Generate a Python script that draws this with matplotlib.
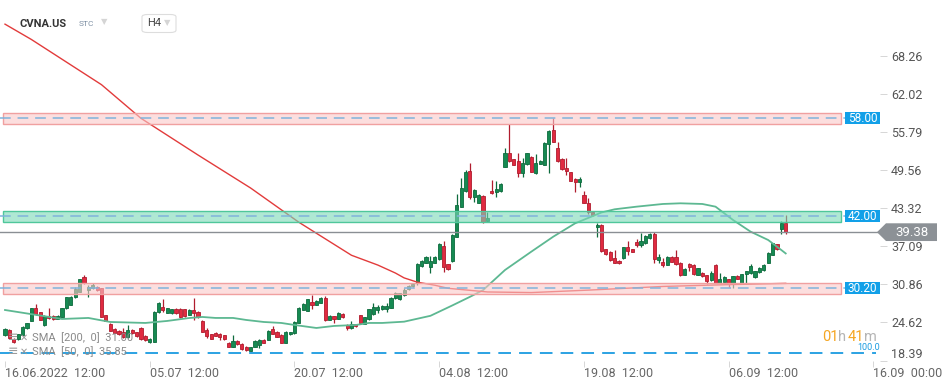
import matplotlib
matplotlib.use("Agg")
import matplotlib.pyplot as plt
from matplotlib.patches import Rectangle, Polygon, FancyBboxPatch
from matplotlib.transforms import blended_transform_factory

plt.rcParams['font.family'] = ['Roboto', 'DejaVu Sans']

# ---- data (H4 candles, CVNA.US) ----
opens = [
    22.57, 23.39, 21.97, 21.86, 22.57, 23.66, 24.91, 26.93, 26.27, 24.15,
    25.67, 25.67, 25.24, 25.57, 26.93, 27.47, 28.73, 29.65, 32.10, 29.93,
    30.20, 30.36, 30.20, 25.84, 24.37, 23.55, 23.28, 23.11, 22.19, 23.39,
    23.00, 23.77, 22.40, 21.48, 21.48, 26.38, 27.20, 26.22, 26.11, 26.76,
    26.82, 26.76, 25.84, 26.66, 26.38, 24.86, 23.39, 22.73, 22.95, 22.73,
    22.51, 21.26, 20.66, 21.59, 21.10, 20.55, 20.01, 20.66, 20.93, 21.75,
    21.75, 23.50, 23.11, 22.57, 21.31, 22.68, 22.84, 24.58, 26.66, 26.55,
    28.02, 27.47, 27.85, 28.56, 25.02, 25.67, 25.18, 26.00, 24.20, 23.66,
    24.31, 25.84, 24.37, 25.13, 26.00, 26.66, 26.76, 26.76, 27.04, 28.56,
    28.40, 29.11, 30.10, 30.50, 31.02, 33.86, 34.40, 33.75, 34.40, 34.95,
    37.12, 34.13, 34.73, 38.65, 43.56, 46.12, 49.39, 45.08, 44.21, 45.30,
    41.21, 46.12, 45.90, 46.17, 50.10, 52.28, 51.29, 51.08, 49.11, 50.48,
    51.73, 49.11, 50.53, 50.37, 53.80, 56.09, 53.09, 51.29, 49.82, 49.22,
    48.02, 47.64, 45.46, 44.21, 42.74, 40.18, 40.55, 36.57, 36.19, 35.10,
    34.72, 35.10, 36.90, 36.57, 37.83, 37.28, 37.56, 38.37, 39.08, 34.83,
    34.56, 34.01, 35.38, 35.27, 34.40, 32.38, 34.18, 34.01, 32.38, 32.76,
    32.38, 31.56, 34.01, 31.12, 31.29, 31.67, 31.12, 32.21, 31.12, 32.49,
    32.76, 32.00, 32.92, 33.20, 34.40, 35.65, 37.45, 39.84, 40.93,
]
closes = [
    23.50, 22.02, 21.37, 22.73, 23.93, 24.48, 26.93, 26.00, 25.02, 25.67,
    25.29, 25.13, 25.67, 26.93, 28.73, 28.84, 30.03, 31.72, 31.02, 30.36,
    30.74, 29.93, 25.57, 24.91, 23.28, 22.95, 22.73, 22.19, 23.39, 22.84,
    22.40, 21.86, 21.75, 21.97, 26.38, 27.75, 26.66, 26.93, 26.76, 26.11,
    25.46, 25.67, 26.66, 26.11, 25.46, 23.11, 22.40, 21.97, 22.46, 22.19,
    21.86, 20.66, 21.64, 21.10, 20.23, 20.12, 20.55, 21.59, 21.75, 21.31,
    23.22, 22.73, 22.30, 21.31, 23.11, 23.00, 24.75, 26.93, 27.64, 28.40,
    27.47, 28.13, 28.56, 25.02, 25.67, 25.24, 26.11, 25.46, 23.66, 24.37,
    24.04, 24.58, 25.46, 26.76, 27.20, 27.20, 27.31, 27.31, 28.56, 29.38,
    29.38, 29.93, 30.60, 30.90, 34.18, 34.67, 35.27, 34.73, 35.38, 37.45,
    33.75, 33.31, 38.92, 43.83, 46.55, 49.28, 45.08, 46.28, 45.46, 41.10,
    41.76, 45.74, 46.44, 47.26, 52.28, 51.08, 50.37, 49.11, 50.75, 52.28,
    49.28, 50.75, 51.08, 54.02, 55.98, 54.18, 51.08, 49.66, 49.44, 47.81,
    47.64, 48.08, 44.21, 42.74, 42.19, 40.56, 36.36, 35.81, 34.83, 34.40,
    34.29, 36.90, 36.36, 36.19, 37.28, 37.99, 38.75, 39.08, 34.94, 35.38,
    34.01, 35.38, 34.56, 34.12, 32.38, 33.36, 33.74, 32.54, 33.47, 32.21,
    31.40, 32.76, 31.12, 31.67, 32.10, 31.12, 32.21, 31.78, 32.54, 33.03,
    33.85, 33.03, 33.58, 34.01, 36.03, 37.56, 36.57, 40.93, 39.38,
]
highs = [
    23.66, 23.50, 22.00, 22.80, 24.00, 24.60, 27.00, 27.64, 26.40, 25.75,
    26.93, 25.80, 25.75, 27.00, 28.84, 28.95, 30.47, 31.80, 32.38, 30.74,
    31.00, 30.50, 30.30, 25.90, 24.50, 23.70, 23.40, 23.66, 24.20, 23.50,
    23.10, 23.90, 22.50, 22.10, 26.50, 28.02, 28.45, 27.00, 26.85, 26.90,
    26.90, 26.85, 26.75, 28.56, 26.50, 24.95, 23.66, 22.80, 23.10, 22.85,
    22.60, 21.35, 22.57, 21.70, 21.20, 20.70, 20.65, 21.70, 21.85, 21.85,
    23.30, 24.00, 23.20, 22.65, 23.20, 23.10, 24.85, 27.20, 27.75, 28.50,
    29.11, 28.30, 28.70, 28.94, 25.80, 25.70, 26.40, 26.10, 24.30, 24.80,
    24.40, 25.90, 25.55, 26.85, 27.75, 27.47, 27.40, 27.85, 28.73, 29.65,
    29.50, 30.20, 30.80, 31.00, 34.40, 34.80, 35.40, 35.49, 35.50, 37.67,
    37.94, 34.20, 39.09, 45.63, 48.19, 49.55, 50.75, 46.44, 45.60, 45.46,
    42.74, 47.92, 47.81, 47.48, 53.09, 57.07, 51.40, 52.38, 51.46, 52.40,
    51.80, 52.17, 51.20, 54.10, 56.09, 58.00, 54.18, 51.46, 51.46, 49.30,
    48.19, 48.46, 46.17, 44.92, 42.90, 40.94, 40.72, 36.65, 36.30, 36.47,
    34.80, 37.00, 37.99, 36.65, 38.21, 39.30, 38.85, 39.30, 39.35, 35.81,
    35.10, 35.45, 35.45, 36.47, 34.56, 33.45, 34.29, 34.10, 33.55, 32.85,
    32.40, 33.09, 34.10, 32.76, 32.20, 31.70, 32.25, 32.30, 32.60, 33.05,
    34.18, 33.10, 33.74, 34.10, 36.10, 37.66, 37.50, 41.26, 42.19,
]
lows = [
    22.40, 21.90, 21.20, 21.80, 22.50, 23.60, 24.85, 25.84, 24.95, 24.10,
    25.13, 25.05, 25.15, 25.50, 26.76, 27.40, 28.56, 29.60, 30.90, 28.73,
    30.10, 29.80, 25.50, 24.80, 23.20, 22.90, 22.60, 22.02, 22.02, 22.75,
    22.30, 21.80, 21.60, 21.30, 21.40, 26.22, 26.38, 26.10, 26.00, 26.00,
    25.35, 25.55, 25.75, 25.02, 25.35, 23.00, 22.02, 21.90, 22.35, 21.75,
    21.80, 20.55, 20.55, 21.00, 20.15, 19.95, 19.95, 20.60, 20.50, 21.25,
    21.70, 22.65, 22.20, 21.25, 21.25, 22.60, 22.80, 24.48, 26.60, 26.50,
    26.76, 27.40, 27.80, 24.86, 24.95, 24.48, 25.10, 25.40, 23.30, 23.60,
    23.95, 24.50, 24.30, 25.05, 25.84, 26.22, 26.70, 26.38, 26.93, 28.40,
    28.30, 29.00, 30.00, 30.40, 30.75, 33.75, 34.30, 32.66, 34.30, 34.84,
    32.93, 33.20, 34.56, 38.54, 43.45, 46.01, 44.76, 44.37, 44.10, 40.83,
    41.10, 45.63, 45.08, 46.01, 49.99, 50.91, 50.30, 48.35, 48.35, 50.40,
    49.20, 48.90, 50.45, 50.30, 49.11, 54.07, 50.91, 49.55, 48.73, 47.70,
    46.01, 46.83, 44.10, 42.36, 42.00, 38.65, 36.19, 35.70, 34.70, 34.29,
    34.20, 35.00, 35.65, 36.10, 37.01, 36.90, 37.50, 38.26, 34.29, 34.29,
    33.63, 33.95, 34.50, 34.01, 32.21, 32.30, 33.09, 32.45, 32.30, 32.10,
    30.85, 31.45, 31.00, 31.02, 31.20, 30.36, 30.20, 31.70, 31.05, 31.12,
    32.54, 31.90, 32.65, 33.10, 34.30, 35.60, 36.50, 39.03, 39.08,
]

# moving averages, sampled along the drawn curves (candle index, price)
sma50_idx = [0, 13, 19, 24, 32, 37, 42, 45, 48, 52, 55, 59, 63, 66, 71, 75, 80, 83, 86, 91,
             97, 102, 106, 109, 114, 120, 125, 130, 136, 139, 144, 150, 154, 159, 162, 166,
             170, 174, 177, 178]
sma50_val = [26.65, 25.18, 25.35, 24.69, 24.53, 24.86, 25.34, 25.51, 25.35, 25.35, 25.02, 24.69,
             24.53, 24.20, 23.71, 24.04, 24.20, 24.53, 24.53, 24.74, 25.70, 27.40, 28.80, 29.90,
             33.19, 36.19, 38.64, 40.83, 42.60, 43.12, 43.55, 43.99, 44.10, 43.99, 43.55, 41.37,
             39.46, 38.10, 36.46, 35.90]
sma200_idx = [0, 6, 22, 31, 44, 56, 67, 79, 85, 89, 91, 94, 98, 101, 110, 120, 133, 150, 165, 178]
sma200_val = [73.4, 70.9, 63.5, 58.0, 52.0, 46.6, 41.0, 35.6, 34.0, 32.7, 31.9, 31.2, 30.7, 30.2,
              29.6, 29.5, 29.9, 30.5, 30.8, 31.0]

levels = [58.00, 42.00, 30.20]
level_kind = ['res', 'sup', 'res']
last_price = 39.38
y_ticks = [68.26, 62.02, 55.79, 49.56, 43.32, 37.09, 30.86, 24.62, 18.39]
x_tick_idx = [0, 33, 66, 99, 132, 165, 198]
x_tick_lbl = ['16.06.2022  12:00', '05.07  12:00', '20.07  12:00', '04.08  12:00',
              '19.08  12:00', '06.09  12:00', '16.09  00:00']

W, H = 949, 384
fig = plt.figure(figsize=(W / 100, H / 100), dpi=100)
fig.patch.set_facecolor('white')
ax = fig.add_axes([0, 1 - 360.5 / H, 880 / W, 360.5 / H])
ax.set_xlim(-1.14, 199.5)
ax.set_ylim(18.39, 77.35)
for s in ax.spines.values():
    s.set_visible(False)

GREEN, GREEN_E = '#168a52', '#0d6b3d'
RED, RED_E = '#e02a40', '#b01c2e'

n = len(closes)
for i in range(n):
    o, c, hi, lo = opens[i], closes[i], highs[i], lows[i]
    up = c >= o
    col, ec = (GREEN, GREEN_E) if up else (RED, RED_E)
    ax.vlines(i, lo, hi, color=ec, lw=0.9, zorder=2)
    bot = min(o, c)
    hgt = max(abs(c - o), 0.12)
    ax.add_patch(Rectangle((i - 0.36, bot), 0.72, hgt, facecolor=col, edgecolor=ec,
                           lw=0.6, zorder=2.5))

ax.plot(sma50_idx, sma50_val, color='#5db892', lw=1.3, zorder=3)
ax.plot(sma200_idx, sma200_val, color='#e23b3b', lw=1.0, zorder=3)

# support / resistance boxes with labels
yax = ax.get_yaxis_transform()
half = 0.92
for lv, kind in zip(levels, level_kind):
    fc = '#fac8c8' if kind == 'res' else '#7ad9b7'
    ec = '#f0a0a0' if kind == 'res' else '#4fc79b'
    ax.add_patch(Rectangle((0.003, lv - half), 0.953, 2 * half, transform=yax, facecolor=fc,
                           edgecolor='none', alpha=0.6, zorder=4))
    ax.add_patch(Rectangle((0.003, lv - half), 0.953, 2 * half, transform=yax, facecolor='none',
                           edgecolor=ec, lw=1.0, zorder=4.2))
    ax.plot([0.0, 0.96], [lv, lv], transform=yax, color='#7fb3dc', lw=1.1,
            dashes=(7, 4.5), zorder=4.5)
    ax.add_patch(Rectangle((0.960, lv - half - 0.05), 0.04, 2 * half + 0.1, transform=yax,
                           facecolor='#12a0e8', edgecolor='none', zorder=6))
    ax.text(0.980, lv, f'{lv:.2f}', transform=yax, ha='center', va='center', color='white',
            fontsize=8.5, zorder=7)

# current price line + arrow label
ax.axhline(last_price, color='#8a8f94', lw=1.0, zorder=5)
fx = blended_transform_factory(fig.transFigure, ax.transData)
ph = 1.45
arrow = Polygon([(877 / W, last_price), (886 / W, last_price + ph), (937 / W, last_price + ph),
                 (937 / W, last_price - ph), (886 / W, last_price - ph)], closed=True,
                transform=fx, facecolor='#8c9196', edgecolor='none', clip_on=False, zorder=8)
fig.patches.append(arrow)
fig.text(912 / W, last_price, f'{last_price:.2f}', transform=fx, ha='center', va='center',
         color='white', fontsize=9.5, zorder=9)

# bottom dashed indicator line
ax.axhline(19.62, color='#1a9be0', lw=1.3, dashes=(7, 4.5), xmax=0.995, zorder=3)

# axes ticks
ax.yaxis.tick_right()
ax.set_yticks(y_ticks)
ax.set_yticklabels([f'{v:.2f}' for v in y_ticks], fontsize=9, color='#555555')
ax.tick_params(axis='y', length=5, width=0.6, color='#d0d0d0', pad=3)
ax.get_yticklabels()[-1].set_va('bottom')
ax.set_xticks(x_tick_idx)
ax.set_xticklabels(x_tick_lbl, fontsize=9, color='#666666', ha='left')
ax.tick_params(axis='x', length=4, width=0.6, color='#d0d0d0', pad=1)

# header
fig.text(20 / W, 1 - 24 / H, 'CVNA.US', fontsize=8, fontweight='bold', color='#333333', va='center')
fig.text(79 / W, 1 - 24 / H, 'STC', fontsize=6, color='#7d8fa3', va='center')
fig.text(101 / W, 1 - 22 / H, '▼', fontsize=6, color='#d5d5d5', va='center', family='DejaVu Sans')
fig.patches.append(FancyBboxPatch((142 / W, 1 - 32.5 / H), 34 / W, 18 / H,
                                  boxstyle='round,pad=0,rounding_size=0.006',
                                  transform=fig.transFigure, facecolor='white',
                                  edgecolor='#dddddd', lw=0.8))
fig.text(147 / W, 1 - 23.5 / H, 'H4', fontsize=8, color='#444444', va='center')
fig.text(164 / W, 1 - 22.5 / H, '▼', fontsize=6, color='#d5d5d5', va='center', family='DejaVu Sans')

# indicator legend
for ly, txt in [(338, 'SMA  [200,  0]  31.00'), (352, 'SMA  [50,  0]  35.85')]:
    fig.text(8 / W, 1 - ly / H, '≡', fontsize=9, color='#9a9a9a', va='center', family='DejaVu Sans')
    fig.text(20 / W, 1 - ly / H, '✕', fontsize=7, color='#9a9a9a', va='center', family='DejaVu Sans')
    fig.text(32 / W, 1 - ly / H, txt, fontsize=8, color='#8a8a8a', va='center')

# candle countdown and indicator value
fig.text(822 / W, 1 - 337 / H, '01', fontsize=10.5, color='#f5a623', va='center')
fig.text(838 / W, 1 - 337 / H, 'h', fontsize=10.5, color='#b5b5b5', va='center')
fig.text(848 / W, 1 - 337 / H, '41', fontsize=10.5, color='#f5a623', va='center')
fig.text(864 / W, 1 - 337 / H, 'm', fontsize=10.5, color='#b5b5b5', va='center')
fig.text(857 / W, 1 - 348 / H, '100.0', fontsize=6.5, color='#1a9be0', va='center')

fig.savefig('out.png', dpi=100, facecolor='white')
